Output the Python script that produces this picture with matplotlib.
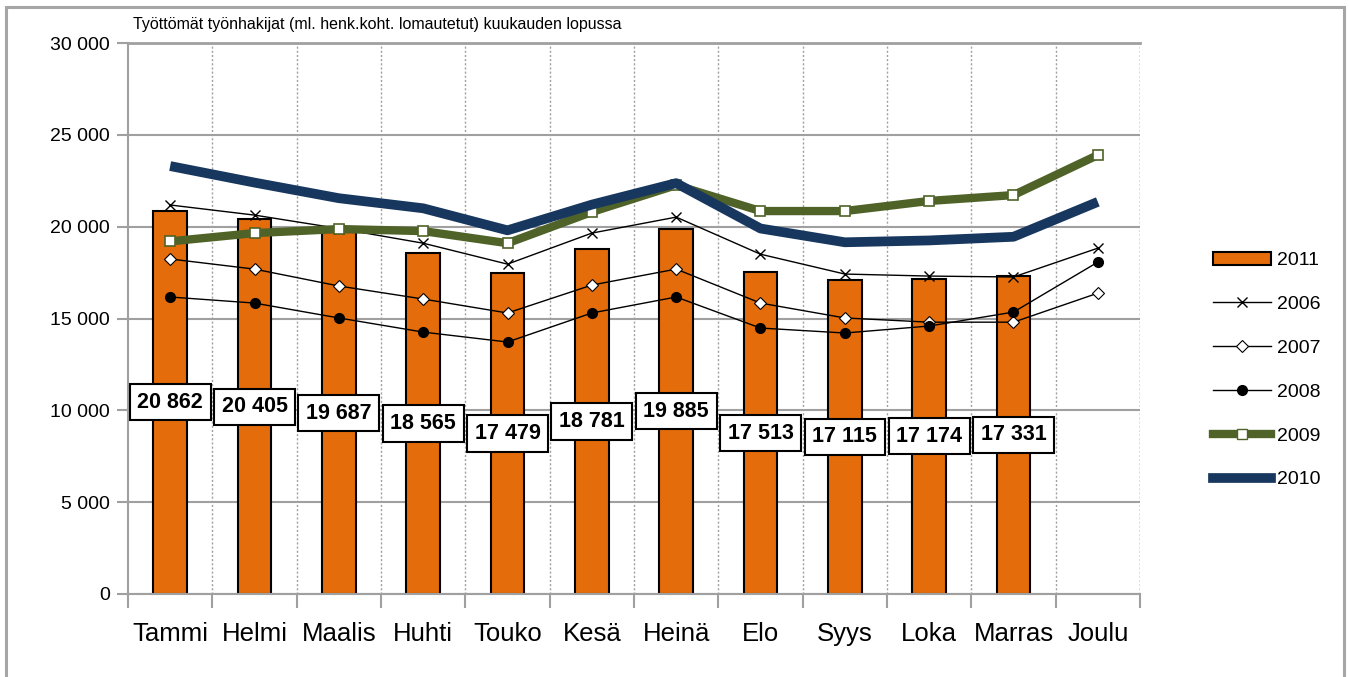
import numpy as np
import matplotlib
matplotlib.use('Agg')
import matplotlib.pyplot as plt
from matplotlib.lines import Line2D
from matplotlib.patches import Patch, Rectangle

plt.rcParams['font.family'] = ['Liberation Sans Narrow', 'Liberation Sans', 'DejaVu Sans']

# kuukaudet
months = ['Tammi', 'Helmi', 'Maalis', 'Huhti', 'Touko', 'Kesä', 'Heinä',
          'Elo', 'Syys', 'Loka', 'Marras', 'Joulu']
# 2011 pylväät (joulu puuttuu)
v2011 = [20862, 20405, 19687, 18565, 17479, 18781, 19885, 17513, 17115, 17174, 17331, np.nan]
# aiemmat vuodet, luettu kuvasta
v2006 = [21180, 20630, 19900, 19100, 17960, 19650, 20520, 18500, 17420, 17310, 17260, 18830]
v2007 = [18240, 17690, 16770, 16060, 15300, 16820, 17690, 15840, 15030, 14800, 14800, 16380]
v2008 = [16170, 15840, 15030, 14260, 13720, 15300, 16170, 14480, 14210, 14590, 15350, 18070]
v2009 = [19200, 19650, 19870, 19760, 19100, 20800, 22260, 20850, 20850, 21400, 21720, 23900]
v2010 = [23300, 22400, 21550, 21000, 19800, 21200, 22370, 19900, 19150, 19250, 19450, 21350]

orange = '#E46C0A'
green = '#4F6228'
navy = '#17375E'
grid_c = '#A0A0A0'

def fmt(v):
    return '{:,}'.format(int(v)).replace(',', ' ')

fig = plt.figure(figsize=(13.49, 6.77), dpi=100)
# ulkokehys
fig.patches.append(Rectangle((6/1349, -0.01), 1338/1349, 1 - 7/677 + 0.01,
                             transform=fig.transFigure, fill=False,
                             edgecolor='#A6A6A6', linewidth=2.2))

ax = fig.add_axes([128/1349, 1 - 594/677, (1140 - 128)/1349, (594 - 43)/677])
x = np.arange(len(months))

ax.bar(x, v2011, width=0.4, color=orange, edgecolor='black', linewidth=1.5, zorder=2)

ax.plot(x, v2006, color='black', linewidth=1, marker='x', markersize=7,
        markeredgewidth=1, zorder=3)
ax.plot(x, v2007, color='black', linewidth=1, marker='D', markersize=6,
        markerfacecolor='white', markeredgecolor='black', markeredgewidth=0.8, zorder=3)
ax.plot(x, v2008, color='black', linewidth=1, marker='o', markersize=7,
        markerfacecolor='black', zorder=3)
ax.plot(x, v2009, color=green, linewidth=6, marker='s', markersize=6.5,
        markerfacecolor='white', markeredgecolor=green, markeredgewidth=1.2, zorder=4)
ax.plot(x, v2010, color=navy, linewidth=7, solid_capstyle='butt', zorder=5)

# arvolaatikot pylväiden keskelle
for xi, v in zip(x, v2011):
    if np.isnan(v):
        continue
    ax.text(xi, v / 2, fmt(v), ha='center', va='center', fontsize=15.5,
            fontweight='bold', zorder=6,
            bbox=dict(boxstyle='square,pad=0.35', facecolor='white',
                      edgecolor='black', linewidth=1.5))

ax.set_xlim(-0.5, len(months) - 0.5)
ax.set_ylim(0, 30000)
ax.set_yticks(range(0, 30001, 5000))
ax.set_yticklabels([fmt(t) for t in range(0, 30001, 5000)], fontsize=14)
ax.set_xticks(x)
ax.set_xticklabels(months, fontsize=18.5)
ax.tick_params(axis='x', length=0, pad=20)
ax.set_xticks(np.arange(-0.5, len(months)), minor=True)
ax.tick_params(axis='x', which='minor', length=10, width=1.5, color=grid_c)
ax.tick_params(axis='y', length=8, width=1.5, color=grid_c, pad=5)

ax.grid(axis='y', color=grid_c, linewidth=1.5, zorder=0)
for b in np.arange(0.5, len(months)):
    ax.axvline(b, color=grid_c, linewidth=1, linestyle=(0, (1.5, 1.5)), zorder=0)
ax.set_axisbelow(True)
for s in ['top', 'right']:
    ax.spines[s].set_visible(False)
ax.axvline(len(months) - 0.5, color=grid_c, linewidth=1, linestyle=(0, (1.5, 1.5)), zorder=0)
ax.axhline(30000, color=grid_c, linewidth=2, zorder=0, clip_on=False)
ax.spines['left'].set_color(grid_c)
ax.spines['left'].set_linewidth(1.5)
ax.spines['bottom'].set_color(grid_c)
ax.spines['bottom'].set_linewidth(1.5)

fig.text(133/1349, 1 - 25/677, 'Työttömät työnhakijat (ml. henk.koht. lomautetut) kuukauden lopussa',
         fontsize=11.5, ha='left', va='center')

handles = [
    Patch(facecolor=orange, edgecolor='black', linewidth=1.5),
    Line2D([], [], color='black', linewidth=1, marker='x', markersize=7),
    Line2D([], [], color='black', linewidth=1, marker='D', markersize=6,
           markerfacecolor='white', markeredgecolor='black', markeredgewidth=0.8),
    Line2D([], [], color='black', linewidth=1, marker='o', markersize=7),
    Line2D([], [], color=green, linewidth=6, marker='s', markersize=6.5,
           markerfacecolor='white', markeredgecolor=green),
    Line2D([], [], color=navy, linewidth=7),
]
labels = ['2011', '2006', '2007', '2008', '2009', '2010']
fig.legend(handles, labels, loc='center left', bbox_to_anchor=(1203/1349, 1 - 370/677),
           frameon=False, fontsize=14, handlelength=3, handletextpad=0.3,
           labelspacing=1.35, borderpad=0)

fig.savefig('out.png', dpi=100)
